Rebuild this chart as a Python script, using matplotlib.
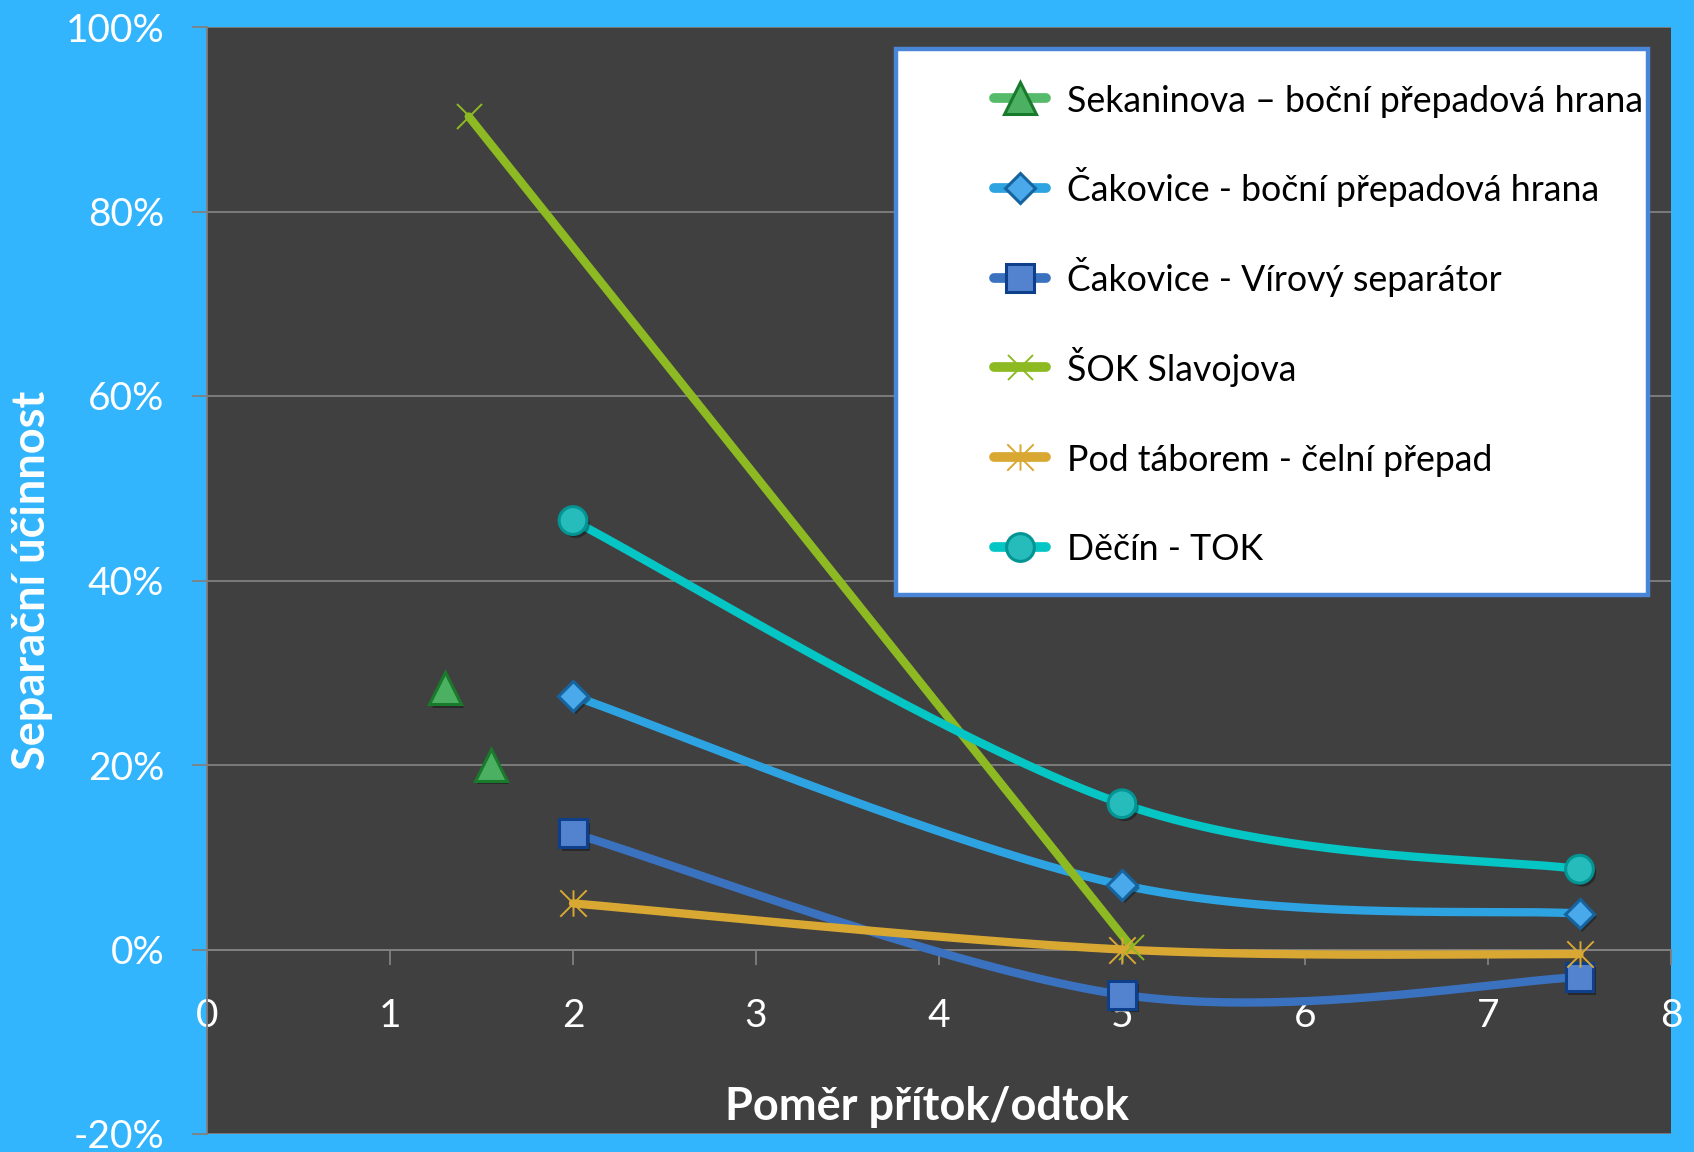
import numpy as np
import matplotlib
matplotlib.use("Agg")
import matplotlib.pyplot as plt
from matplotlib.path import Path
from matplotlib.patches import Rectangle
from matplotlib.lines import Line2D
import matplotlib.patheffects as pe

# ---- data (separation efficiency in %) ----
series_names = [
    "Sekaninova – boční přepadová hrana",
    "Čakovice - boční přepadová hrana",
    "Čakovice - Vírový separátor",
    "ŠOK Slavojova",
    "Pod táborem - čelní přepad",
    "Děčín - TOK",
]
sekaninova_x = [1.3, 1.55]
sekaninova_y = [28.3, 20.0]
cakovice_bocni_x = [2, 5, 7.5]
cakovice_bocni_y = [27.5, 7.0, 3.9]
cakovice_virovy_x = [2, 5, 7.5]
cakovice_virovy_y = [12.6, -4.9, -3.0]
sok_x = [1.43, 5.05]
sok_y = [90.3, 0.3]
tabor_x = [2, 5, 7.5]
tabor_y = [5.0, 0.0, -0.5]
decin_x = [2, 5, 7.5]
decin_y = [46.5, 15.8, 8.7]

x_ticks = [0, 1, 2, 3, 4, 5, 6, 7, 8]
y_ticks = [-20, 0, 20, 40, 60, 80, 100]
x_title = "Poměr přítok/odtok"
y_title = "Separační účinnost"

# ---- style ----
W, H, DPI = 1694, 1152, 100
BG = "#33b5fe"
PLOT_BG = "#404040"
GRID = "#808080"
FONT = ["Lato", "DejaVu Sans"]
plt.rcParams["font.family"] = FONT


def smooth_curve(xs, ys, n=80):
    """Bezier smoothing through the points (Excel-style smoothed line)."""
    P = np.column_stack([xs, ys]).astype(float)
    if len(P) < 3:
        return P[:, 0], P[:, 1]
    t = np.linspace(0, 1, n)[1:, None]
    out = [P[:1]]
    for i in range(len(P) - 1):
        p0 = P[i - 1] if i > 0 else P[i]
        p1, p2 = P[i], P[i + 1]
        p3 = P[i + 2] if i + 2 < len(P) else P[i + 1]
        c1 = p1 + (p2 - p0) / 6.0
        c2 = p2 - (p3 - p1) / 6.0
        seg = ((1 - t) ** 3) * p1 + 3 * (1 - t) ** 2 * t * c1 + 3 * (1 - t) * t ** 2 * c2 + t ** 3 * p2
        out.append(seg)
    C = np.vstack(out)
    return C[:, 0], C[:, 1]


# asterisk marker: vertical bar plus both diagonals
star_marker = Path(
    [(0, -1), (0, 1), (-1, -1), (1, 1), (-1, 1), (1, -1)],
    [Path.MOVETO, Path.LINETO, Path.MOVETO, Path.LINETO, Path.MOVETO, Path.LINETO],
)

shadow = [pe.SimplePatchShadow(offset=(2, -2.5), shadow_rgbFace="black", alpha=0.35), pe.Normal()]

styles = [
    dict(line="#55bb6a", marker="^", ms=23, mfc="#4cb063", mec="#1a7a2c", mew=2.2, smooth=False, draw_line=False),
    dict(line="#2ea3e2", marker="D", ms=15, mfc="#4aa9ea", mec="#15649f", mew=2.2, smooth=True, draw_line=True),
    dict(line="#3b72c0", marker="s", ms=20, mfc="#5383cf", mec="#0e3f8a", mew=2.2, smooth=True, draw_line=True),
    dict(line="#8db922", marker="x", ms=18, mfc="none", mec="#8db922", mew=1.4, smooth=False, draw_line=True),
    dict(line="#d9a833", marker=star_marker, ms=19, mfc="none", mec="#d9a833", mew=1.4, smooth=True, draw_line=True),
    dict(line="#05c5c5", marker="o", ms=20, mfc="#26bcbc", mec="#039494", mew=2.2, smooth=True, draw_line=True),
]
data = [
    (sekaninova_x, sekaninova_y),
    (cakovice_bocni_x, cakovice_bocni_y),
    (cakovice_virovy_x, cakovice_virovy_y),
    (sok_x, sok_y),
    (tabor_x, tabor_y),
    (decin_x, decin_y),
]

fig = plt.figure(figsize=(W / DPI, H / DPI), dpi=DPI, facecolor=BG)
ax = fig.add_axes([207 / W, 1 - 1134 / H, (1671 - 207) / W, (1134 - 27) / H])
ax.set_facecolor(PLOT_BG)
ax.set_xlim(0, 8)
ax.set_ylim(-20, 100)

# grid and axes
ax.set_yticks(y_ticks)
ax.set_yticklabels([f"{v}%" for v in y_ticks])
ax.set_xticks(x_ticks)
ax.set_xticklabels([str(v) for v in x_ticks])
ax.yaxis.grid(True, color=GRID, lw=1.3, zorder=0)
ax.set_axisbelow(True)
for s in ("top", "right"):
    ax.spines[s].set_visible(False)
ax.spines["left"].set_color(GRID)
ax.spines["left"].set_linewidth(1.3)
ax.spines["bottom"].set_position(("data", 0))
ax.spines["bottom"].set_color(GRID)
ax.spines["bottom"].set_linewidth(1.3)
ax.tick_params(axis="y", direction="out", length=10.8, width=1.3, color=GRID,
               labelcolor="white", labelsize=28, pad=20)
ax.tick_params(axis="x", direction="out", length=10.8, width=1.3, color=GRID,
               labelcolor="white", labelsize=28, pad=24)

for (xs, ys), st in zip(data, styles):
    if st["draw_line"]:
        if st["smooth"]:
            cx, cy = smooth_curve(xs, ys)
        else:
            cx, cy = xs, ys
        ax.plot(cx, cy, color=st["line"], lw=6.0, solid_capstyle="round", zorder=3)
    filled = st["mfc"] != "none"
    ax.plot(xs, ys, ls="none", marker=st["marker"], ms=st["ms"], mfc=st["mfc"],
            mec=st["mec"], mew=st["mew"], zorder=4,
            path_effects=shadow if filled else None)

# axis titles
fig.text(927 / W, 1 - 1107 / H, x_title, color="white", fontsize=32.5,
         fontweight="bold", ha="center", va="center")
fig.text(32 / W, 1 - 580 / H, y_title, color="white", fontsize=32.5,
         fontweight="bold", ha="center", va="center", rotation=90)

# legend: white panel with evenly spaced rows
box = Rectangle((896 / W, 1 - 595 / H), (1648 - 896) / W, (595 - 49) / H,
                transform=fig.transFigure, facecolor="white", edgecolor="#4a86d8",
                lw=3.2, zorder=6)
fig.add_artist(box)
row0, row_step = 98.0, 89.8
for i, (name, st) in enumerate(zip(series_names, styles)):
    yc = 1 - (row0 + i * row_step) / H
    fig.add_artist(Line2D([994 / W, 1046 / W], [yc, yc], transform=fig.transFigure,
                          color=st["line"], lw=7, solid_capstyle="round", zorder=7))
    fig.add_artist(Line2D([1020 / W], [yc], transform=fig.transFigure, ls="none",
                          marker=st["marker"], ms=st["ms"], mfc=st["mfc"],
                          mec=st["mec"], mew=st["mew"], zorder=8))
    fig.text(1067 / W, yc - 13.5 / H, name, color="black", fontsize=25.7,
             ha="left", va="baseline", zorder=8)

fig.savefig("out.png", dpi=DPI, facecolor=BG)
